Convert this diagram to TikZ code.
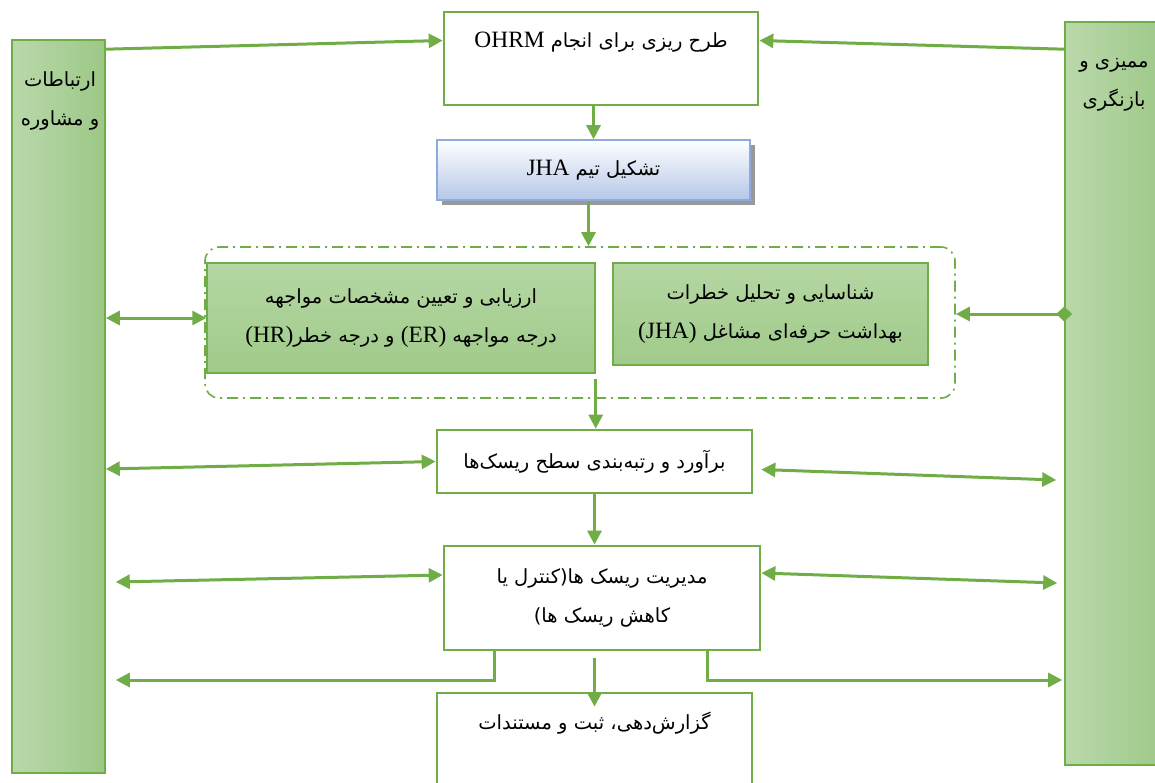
\documentclass[tikz,border=0pt]{standalone}
\usepackage{fontspec}
\setmainfont{Liberation Serif}
\newfontfamily\arabicfont[Script=Arabic]{DejaVu Sans}
\newfontfamily\latinfont[Scale=1.2]{Liberation Serif}
\TeXXeTstate=1
\usetikzlibrary{arrows.meta,shadows}
\definecolor{gline}{HTML}{70AD47}
\definecolor{gl}{HTML}{BAD8AB}
\definecolor{gd}{HTML}{9CC886}
\definecolor{gmt}{HTML}{B5D7A3}
\definecolor{gmb}{HTML}{A0CA8A}
\definecolor{bl}{HTML}{B4C7E7}
\definecolor{bborder}{HTML}{8FAADC}
\newcommand{\arb}[1]{{\arabicfont\beginR #1\endR}}
\newcommand{\latn}[1]{\beginL{\latinfont #1}\endL}
\tikzset{
  every node/.style={font=\fontsize{19.5pt}{39pt}\selectfont, inner sep=0pt, align=center},
  tall/.style={draw=gline, line width=1.6pt, left color=gl, right color=gd},
  wbox/.style={draw=gline, line width=2.7pt, fill=white},
  gbox/.style={draw=gline, line width=1.4pt, top color=gmt, bottom color=gmb},
  bbox/.style={draw=bborder, line width=1.6pt, top color=white, bottom color=bl,
     drop shadow={shadow xshift=5pt, shadow yshift=-5pt, fill=black!40, opacity=1}},
  grp/.style={draw=gline, line width=1.6pt, rounded corners=14pt, dash pattern=on 11pt off 5pt on 2pt off 5pt},
  arr/.style={draw=gline, line width=3pt, -{Triangle[length=14pt,width=14pt]}},
  darr/.style={draw=gline, line width=3pt, {Triangle[length=14pt,width=14pt]}-{Triangle[length=14pt,width=14pt]}},
  darrd/.style={draw=gline, line width=3pt, {Diamond[length=16pt,width=15pt]}-{Triangle[length=14pt,width=14pt]}}
}
\begin{document}
\begin{tikzpicture}[x=1pt,y=-1pt]
\useasboundingbox (0,0) rectangle (1155,782);
% side boxes
\node[tall, minimum width=93pt, minimum height=733pt] (L) at (58.5,406.5) {};
\node[tall, minimum width=105pt, minimum height=743pt] (R) at (1117.5,393.5) {};
\node (Lt) at (60,101) {\arb{ارتباطات}\\\arb{و مشاوره}};
\node (Rt) at (1114,85) {\arb{ممیزی و}\\\arb{بازنگری}};
% main boxes
\node[wbox, minimum width=314pt, minimum height=93pt] (top) at (601,58.5) {};
\node (topt) at (601,42) {\arb{طرح ریزی برای انجام \latn{OHRM}}};
\node[bbox, minimum width=313pt, minimum height=60pt] (jha) at (593.5,170) {\arb{تشکیل تیم \latn{JHA}}};
\node[grp, minimum width=750pt, minimum height=151pt] (group) at (580,322.5) {};
\node[gbox, minimum width=388pt, minimum height=110pt] (ev) at (401,318)
  {\arb{ارزیابی و تعیین مشخصات مواجهه}\\\arb{درجه مواجهه \latn{(ER)} و درجه خطر\latn{(HR)}}};
\node[gbox, minimum width=315pt, minimum height=102pt] (id) at (770.5,314)
  {\arb{شناسایی و تحلیل خطرات}\\\arb{بهداشت حرفه‌ای مشاغل \latn{(JHA)}}};
\node[wbox, minimum width=315pt, minimum height=63pt] (est) at (594.5,461.5) {\arb{برآورد و رتبه‌بندی سطح ریسک‌ها}};
\node[wbox, minimum width=316pt, minimum height=104pt] (mgmt) at (602,598)
  {\arb{مدیریت ریسک ها(کنترل یا}\\\arb{کاهش ریسک ها)}};
\node[wbox, minimum width=315pt, minimum height=97pt] (rep) at (594.5,741.5) {};
\node (rept) at (594.5,723) {\arb{گزارش‌دهی، ثبت و مستندات}};
% connectors
\draw[arr] ([yshift=-10pt]L.north east) -- ([yshift=18pt]top.west);
\draw[arr] ([yshift=-28pt]R.north west) -- ([yshift=18pt]top.east);
\draw[arr] (jha.north |- top.south) -- (jha.north);
\draw[arr] ([xshift=-5pt]jha.south) -- ([xshift=-5pt]jha.south |- group.north);
\draw[darr] (L.east |- ev.west) -- (ev.west);
\draw[darrd] ([xshift=8pt]R.west |- id.east) -- (group.east |- id.east);
\draw[arr] ([yshift=-5pt]ev.south east) -- (ev.south east |- est.north);
\draw[darr] ([yshift=-62.5pt]L.east) -- (est.west);
\draw[darr] ([shift={(8pt,-8pt)}]est.east) -- ([shift={(-8pt,-86.5pt)}]R.west);
\draw[arr] (est.south) -- (est.south |- mgmt.north);
\draw[darr] ([shift={(10pt,-175.5pt)}]L.east) -- ([yshift=23pt]mgmt.west);
\draw[darr] ([yshift=25pt]mgmt.east) -- ([shift={(-7pt,-189.5pt)}]R.west);
\draw[arr] ([xshift=-108pt]mgmt.south) |- ([shift={(10pt,-273.5pt)}]L.east);
\draw[arr] ([xshift=105pt]mgmt.south) |- ([shift={(-2pt,-286.5pt)}]R.west);
\draw[arr] ([yshift=-7pt]rep.north |- mgmt.south) -- ([yshift=-15pt]rep.north);
\end{tikzpicture}
\end{document}
